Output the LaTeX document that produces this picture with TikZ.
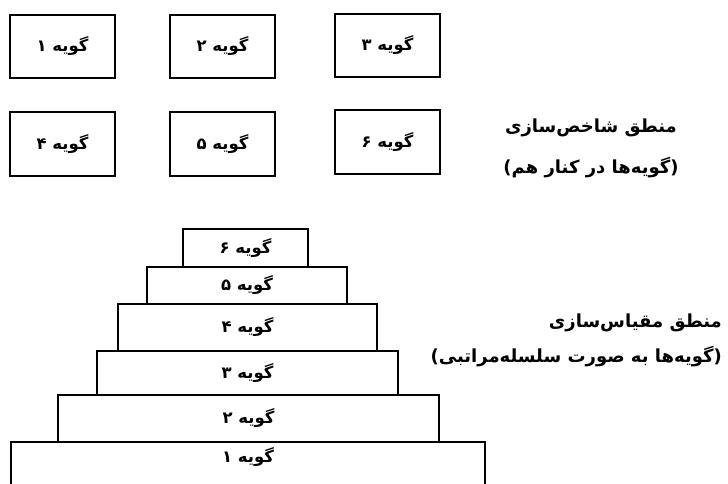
\documentclass[tikz,border=0pt]{standalone}
\usepackage{fontspec}
\TeXXeTstate=1
\newfontfamily\fafont[Script=Arabic]{DejaVu Sans}
\newcommand\fatxt[1]{{\fafont\bfseries\beginR #1\endR}}
\begin{document}
\begin{tikzpicture}[x=1pt,y=-1pt,
  boxfont/.style={font=\fafont\bfseries\fontsize{16.5}{18}\selectfont},
  gbox/.style={draw, line width=2pt, rectangle, inner sep=0pt, minimum width=105pt, minimum height=63pt, boxfont},
  pbox/.style={draw, line width=2pt, rectangle, inner sep=0pt, anchor=north west, boxfont},
  txt/.style={inner sep=0pt, font=\fafont\bfseries\fontsize{18}{20}\selectfont}]
\useasboundingbox (0,0) rectangle (728,484);
% side-by-side
\node[gbox] (g1) at (62.5,46.5) {\fatxt{گویه ۱}};
\node[gbox] (g2) at (222.5,46.5) {\fatxt{گویه ۲}};
\node[gbox] (g3) at (387.5,45.5) {\fatxt{گویه ۳}};
\node[gbox] (g4) at (62.5,144) {\fatxt{گویه ۴}};
\node[gbox] (g5) at (222.5,144) {\fatxt{گویه ۵}};
\node[gbox] (g6) at (387.5,142) {\fatxt{گویه ۶}};
\node[txt] (l1) at (591,128) {\fatxt{منطق شاخص‌سازی}};
\node[txt] (l2) at (591,168) {\fatxt{(گویه‌ها در کنار هم)}};
% pyramid
\node[pbox, minimum width=125pt, minimum height=38pt] (p6) at (182,228) {\fatxt{گویه ۶}};
\node[pbox, minimum width=200pt, minimum height=37pt] (p5) at (146,266) {\fatxt{گویه ۵}};
\node[pbox, minimum width=259pt, minimum height=47pt] (p4) at (117,303) {\fatxt{گویه ۴}};
\node[pbox, minimum width=301pt, minimum height=44pt] (p3) at (96,350) {\fatxt{گویه ۳}};
\node[pbox, minimum width=381pt, minimum height=47pt] (p2) at (57,394) {\fatxt{گویه ۲}};
\node[pbox, minimum width=474pt, text height=13pt, text depth=40pt, inner ysep=7pt] (p1) at (10,441) {\fatxt{گویه ۱}};
\node[txt, anchor=east] (l3) at (722,323) {\fatxt{منطق مقیاس‌سازی}};
\node[txt, anchor=east] (l4) at (722,357) {\fatxt{(گویه‌ها به صورت سلسله‌مراتبی)}};
\end{tikzpicture}
\end{document}
